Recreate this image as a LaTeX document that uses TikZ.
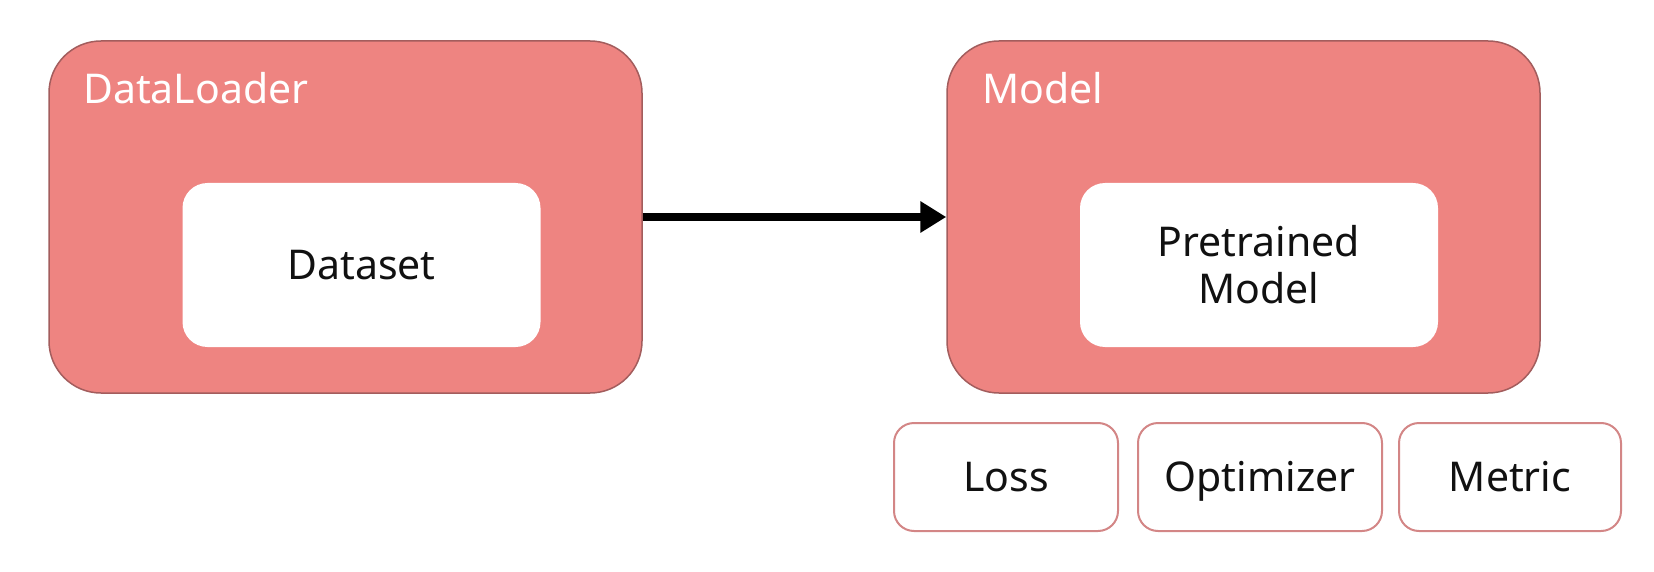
\documentclass[tikz,border=0pt]{standalone}
\usepackage{fontspec}
\setmainfont{Noto Sans}
\usetikzlibrary{arrows.meta}
\definecolor{boxfill}{HTML}{EE8481}
\definecolor{boxline}{HTML}{A35D5D}
\definecolor{smallline}{HTML}{D38686}
\definecolor{txt}{HTML}{111111}
\begin{document}
\begin{tikzpicture}[x=1pt,y=-1pt,
  bigtxt/.style={font=\fontsize{41}{47}\selectfont},
  outerbox/.style={draw=boxline, line width=1.5pt, fill=boxfill, rounded corners=52pt,
    minimum width=593pt, minimum height=352pt, inner sep=0pt},
  innerbox/.style={fill=white, rounded corners=25pt, minimum width=358pt,
    minimum height=164pt, inner sep=0pt, bigtxt, text=txt, align=center},
  oneline/.style={text height=29pt, text depth=0pt},
  smallbox/.style={draw=smallline, line width=2pt, fill=white, rounded corners=20pt,
    minimum height=108pt, inner sep=0pt, bigtxt, text=txt, oneline},
  title/.style={bigtxt, text=white, anchor=base west, inner sep=0pt},
  flow/.style={line width=8pt, -{Triangle[length=26pt,width=30pt]}}]
\useasboundingbox (0,0) rectangle (1654,572);
\node[outerbox] (dl) at (345.5,217) {};
\node[outerbox] (model) at (1243.5,217) {};
\node[title] (dltitle) at (83,104) {DataLoader};
\node[title] (modeltitle) at (982,104) {Model};
\node[innerbox, oneline] (ds) at (361.5,265) {Dataset};
\node[innerbox] (pm) at (1259,265) {Pretrained\\Model};
\node[smallbox, minimum width=224pt] (loss) at (1006,477) {Loss};
\node[smallbox, minimum width=244pt] (opt) at (1260,477) {Optimizer};
\node[smallbox, minimum width=222pt] (metric) at (1510,477) {Metric};
\draw[flow] (dl.east) -- (model.west);
\end{tikzpicture}
\end{document}
